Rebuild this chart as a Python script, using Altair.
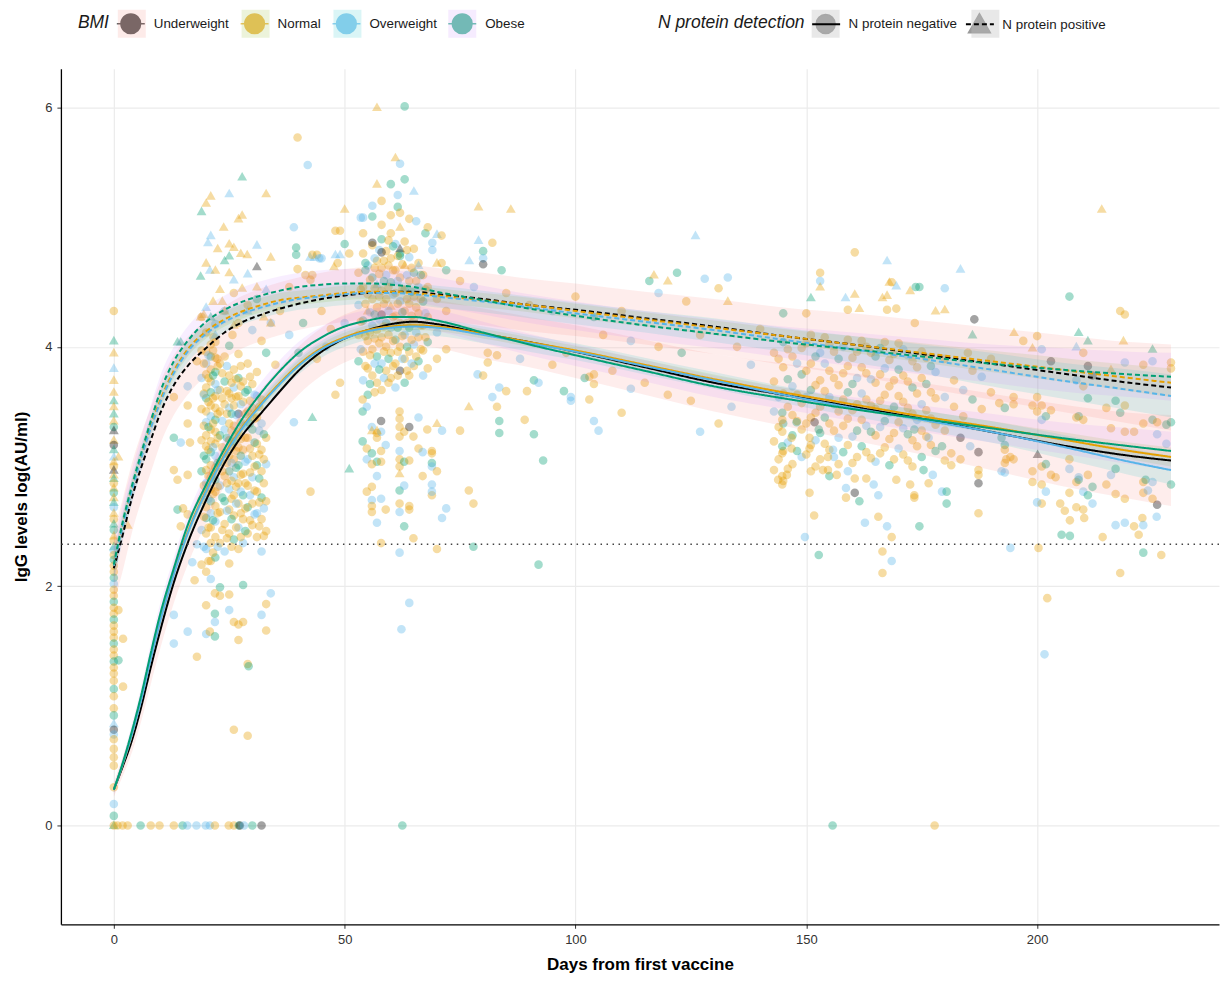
import altair as alt
import pandas as pd

BMI_LEVELS = ["Underweight", "Normal", "Overweight", "Obese"]
BMI_CODE = {"U": "Underweight", "N": "Normal", "O": "Overweight", "B": "Obese"}
N_LEVELS = ["N protein negative", "N protein positive"]
LINE_COLORS = ["#000000", "#E69F00", "#56B4E9", "#009E73"]
BAND_COLORS = ["#F8766D", "#7CAE00", "#00BFC4", "#C77CFF"]
DASHES = [[1, 0], [5, 3]]
THRESHOLD = [2.35]
X_TICKS = [0, 50, 100, 150, 200]
Y_TICKS = [0, 2, 4, 6]

# ---- observed points: (day, log IgG, BMI code, N positive flag) ----
pts_day0 = [
    (0,4.30,'N',0),(0,4.05,'B',1),(0,3.95,'N',1),(0,3.82,'O',1),(0,3.72,'N',1),(0,3.62,'N',1),(0,3.55,'B',1),
    (0,3.50,'N',1),(0,3.44,'B',1),(0,3.38,'N',1),(0,3.33,'B',0),(0,3.30,'U',1),(0,3.22,'N',1),(0,3.18,'U',0),
    (0,3.14,'B',1),(0,3.08,'O',1),(0,3.04,'N',1),(0,3.00,'N',0),(0,2.97,'U',1),(0,2.93,'N',1),(0,2.90,'B',1),
    (0,2.86,'N',0),(0,2.82,'N',1),(0,2.78,'B',0),(0,2.74,'N',1),(0,2.70,'B',1),(0,2.66,'O',0),(0,2.61,'N',1),
    (0,2.56,'N',0),(0,2.52,'B',1),(0,2.47,'B',0),(0,2.42,'N',1),(0,2.38,'N',0),(0,2.33,'B',1),(0,2.30,'O',0),
    (0,2.26,'N',0),(0,2.22,'B',0),(0,2.17,'N',0),(0,2.12,'N',0),(0,2.07,'B',0),(0,2.02,'O',0),(0,1.97,'N',0),
    (0,1.92,'N',0),(0,1.87,'B',0),(0,1.82,'N',0),(0,1.77,'N',0),(0,1.72,'B',0),(0,1.67,'N',0),(0,1.62,'N',0),
    (0,1.57,'N',0),(0,1.52,'B',0),(0,1.47,'N',0),(0,1.42,'N',0),(0,1.37,'B',0),(0,1.32,'N',0),(0,1.27,'N',0),
    (0,1.21,'N',0),(0,1.14,'B',0),(0,1.08,'N',0),(0,0.98,'N',0),(0,0.92,'B',0),(0,0.85,'O',1),(0,0.80,'U',0),
    (0,0.76,'O',0),(0,0.72,'N',0),(0,0.64,'N',0),(0,0.57,'N',0),(0,0.50,'N',0),(0,0.32,'N',0),(0,0.18,'O',0),
    (0,0.08,'B',0),(0,0.0,'B',1),(1,1.80,'N',0),(2,1.56,'N',0),(2,1.16,'N',0),(1,1.38,'B',0),(3,2.51,'N',1),
    (1,3.08,'N',1),
]
pts_zero = [
    (0,0,'N',0),(0.8,0,'N',0),(1.9,0,'N',0),(3,0,'N',0),(5.8,0,'B',0),(8,0,'N',0),(9.9,0,'N',0),(13,0,'N',0),
    (14.9,0,'B',0),(15.9,0,'O',0),(17.9,0,'O',0),(19.9,0,'O',0),(20.8,0,'O',0),(21.9,0,'N',0),(24.9,0,'N',0),
    (26,0,'N',0),(27.1,0,'B',0),(27.3,0,'U',0),(28.2,0,'O',0),(30,0,'B',0),(32,0,'U',0),(62.5,0,'B',0),
    (155.7,0,'B',0),(177.8,0,'N',0),
]
pts_c_core = [
    (19,2.18,'N',0),(19,2.47,'O',0),(19,2.72,'N',0),(19,2.96,'B',0),(19,3.22,'N',0),(19,3.48,'N',0),(19,3.74,'O',0),(19,3.97,'N',0),
    (20,2.12,'N',0),(20,2.31,'O',0),(20,2.44,'N',0),(20,2.57,'B',0),(20,2.66,'N',0),(20,2.78,'N',0),(20,2.86,'O',0),(20,2.97,'N',0),
    (20,3.06,'B',0),(20,3.17,'N',0),(20,3.26,'N',0),(20,3.37,'O',0),(20,3.46,'N',0),(20,3.57,'B',0),(20,3.66,'N',0),(20,3.77,'N',0),
    (20,3.86,'O',0),(20,3.96,'N',0),(20,4.12,'N',0),
    (21,2.06,'O',0),(21,2.21,'N',0),(21,2.36,'N',0),(21,2.49,'N',0),(21,2.61,'O',0),(21,2.71,'B',0),(21,2.81,'N',0),(21,2.91,'N',0),
    (21,3.01,'N',0),(21,3.12,'B',0),(21,3.21,'N',0),(21,3.31,'N',0),(21,3.42,'O',0),(21,3.51,'N',0),(21,3.62,'B',0),(21,3.71,'N',0),
    (21,3.81,'N',0),(21,3.92,'B',0),(21,4.02,'N',0),
    (22,2.24,'B',0),(22,2.41,'N',0),(22,2.54,'O',0),(22,2.67,'N',0),(22,2.79,'N',0),(22,2.89,'B',0),(22,2.99,'N',0),(22,3.09,'O',0),
    (22,3.19,'N',0),(22,3.29,'N',0),(22,3.39,'B',0),(22,3.49,'N',0),(22,3.59,'N',0),(22,3.69,'O',0),(22,3.79,'B',0),(22,3.91,'N',0),
    (22,4.04,'N',0),(22,4.19,'O',0),
    (23,2.36,'N',0),(23,2.62,'N',0),(23,2.84,'O',0),(23,3.04,'N',0),(23,3.26,'B',0),(23,3.46,'N',0),(23,3.64,'N',0),(23,3.86,'N',0),
    (24,2.29,'O',0),(24,2.52,'N',0),(24,2.71,'B',0),(24,2.92,'N',0),(24,3.11,'N',0),(24,3.31,'O',0),(24,3.52,'N',0),(24,3.71,'B',0),
    (24,3.92,'N',0),
    (25,2.19,'N',0),(25,2.44,'N',0),(25,2.64,'N',0),(25,2.81,'O',0),(25,2.96,'B',0),(25,3.09,'N',0),(25,3.22,'N',0),(25,3.36,'N',0),
    (25,3.49,'O',0),(25,3.61,'N',0),(25,3.76,'N',0),(25,4.01,'B',0),
    (26,2.39,'B',0),(26,2.59,'N',0),(26,2.76,'N',0),(26,2.91,'O',0),(26,3.06,'N',0),(26,3.21,'B',0),(26,3.34,'N',0),(26,3.51,'N',0),
    (26,3.66,'O',0),(26,3.81,'N',0),
    (27,2.31,'N',0),(27,2.49,'O',0),(27,2.69,'N',0),(27,2.86,'N',0),(27,3.01,'B',0),(27,3.16,'N',0),(27,3.29,'N',0),(27,3.44,'U',0),
    (27,3.59,'N',0),(27,3.74,'B',0),(27,3.94,'N',0),
    (28,2.36,'O',0),(28,2.56,'N',0),(28,2.76,'B',0),(28,2.94,'N',0),(28,3.14,'N',0),(28,3.34,'O',0),(28,3.54,'N',0),(28,3.71,'N',0),
    (29,2.44,'N',0),(29,2.66,'B',0),(29,2.84,'N',0),(29,3.06,'O',0),(29,3.24,'N',0),(29,3.46,'N',0),(29,3.64,'B',0),(29,3.86,'N',0),
    (30,2.51,'N',0),(30,2.69,'N',0),(30,2.91,'O',0),(30,3.09,'N',0),(30,3.31,'B',0),(30,3.49,'N',0),(30,3.69,'N',0),
    (31,2.41,'N',0),(31,2.61,'O',0),(31,2.79,'N',0),(31,3.01,'B',0),(31,3.19,'N',0),(31,3.41,'N',0),(31,3.59,'O',0),(31,3.79,'N',0),
    (32,2.29,'O',0),(32,2.56,'N',0),(32,2.74,'B',0),(32,2.96,'N',0),(32,3.14,'N',0),(32,3.36,'O',0),(32,3.56,'N',0),
    (33,2.46,'N',0),(33,2.71,'N',0),(33,3.02,'O',0),(33,3.24,'N',0),
]
pts_c_extra = [
    (19.5,2.33,'O',0),(19.5,2.58,'N',0),(19.5,2.84,'N',0),(19.5,3.09,'B',0),(19.5,3.34,'N',0),(19.5,3.61,'N',0),(19.5,3.86,'N',0),
    (20.5,2.21,'N',0),(20.5,2.49,'N',0),(20.5,2.73,'O',0),(20.5,2.92,'N',0),(20.5,3.14,'N',0),(20.5,3.33,'B',0),(20.5,3.54,'N',0),
    (20.5,3.74,'N',0),(20.5,3.93,'O',0),(21.5,2.28,'N',0),(21.5,2.55,'B',0),(21.5,2.77,'N',0),(21.5,2.95,'N',0),(21.5,3.16,'O',0),
    (21.5,3.36,'N',0),(21.5,3.57,'N',0),(21.5,3.76,'B',0),(21.5,3.97,'N',0),(22.5,2.33,'O',0),(22.5,2.61,'N',0),(22.5,2.83,'N',0),
    (22.5,3.03,'B',0),(22.5,3.24,'N',0),(22.5,3.44,'N',0),(22.5,3.64,'O',0),(22.5,3.84,'N',0),(23.5,2.47,'N',0),(23.5,2.74,'B',0),
    (23.5,2.96,'N',0),(23.5,3.16,'N',0),(23.5,3.38,'O',0),(23.5,3.57,'N',0),(23.5,3.78,'N',0),(24.5,2.40,'N',0),(24.5,2.63,'O',0),
    (24.5,2.86,'N',0),(24.5,3.03,'N',0),(24.5,3.24,'B',0),(24.5,3.44,'N',0),(24.5,3.63,'N',0),(24.5,3.84,'O',0),(25.5,2.33,'N',0),
    (25.5,2.56,'B',0),(25.5,2.73,'N',0),(25.5,2.88,'N',0),(25.5,3.03,'O',0),(25.5,3.16,'N',0),(25.5,3.30,'N',0),(25.5,3.44,'B',0),
    (25.5,3.57,'N',0),(25.5,3.70,'N',0),(26.5,2.49,'N',0),(26.5,2.69,'O',0),(26.5,2.83,'N',0),(26.5,2.99,'B',0),(26.5,3.13,'N',0),
    (26.5,3.27,'N',0),(26.5,3.43,'O',0),(26.5,3.58,'N',0),(26.5,3.73,'N',0),(27.5,2.41,'N',0),(27.5,2.61,'N',0),(27.5,2.79,'O',0),
    (27.5,2.93,'N',0),(27.5,3.09,'B',0),(27.5,3.23,'N',0),(27.5,3.37,'N',0),(27.5,3.52,'O',0),(27.5,3.67,'N',0),(27.5,3.84,'N',0),
    (28.5,2.46,'B',0),(28.5,2.65,'N',0),(28.5,2.86,'N',0),(28.5,3.04,'O',0),(28.5,3.24,'N',0),(28.5,3.44,'N',0),(28.5,3.62,'B',0),
    (29.5,2.55,'N',0),(29.5,2.76,'O',0),(29.5,2.95,'N',0),(29.5,3.15,'N',0),(29.5,3.36,'B',0),(29.5,3.55,'N',0),(29.5,3.75,'N',0),
    (30.5,2.60,'O',0),(30.5,2.80,'N',0),(30.5,3.00,'N',0),(30.5,3.20,'B',0),(30.5,3.40,'N',0),(30.5,3.60,'O',0),(31.5,2.50,'N',0),
    (31.5,2.70,'N',0),(31.5,2.90,'B',0),(31.5,3.10,'N',0),(31.5,3.30,'O',0),(31.5,3.50,'N',0),(32.5,2.42,'N',0),(32.5,2.65,'O',0),
    (32.5,2.86,'N',0),(32.5,3.06,'N',0),(32.5,3.27,'B',0),
]
pts_c_low = [
    (13,1.76,'O',0),(16,1.62,'O',0),(13,1.52,'O',0),(18,1.41,'N',0),(20,1.84,'N',0),(20,1.60,'O',0),(20.8,1.62,'N',0),
    (21.9,1.77,'B',0),(21.9,1.70,'O',0),(21.9,1.58,'B',0),(21.9,1.94,'N',0),(23,1.99,'B',0),(23,1.92,'N',0),(25,1.93,'N',0),
    (25,1.80,'O',0),(26,1.70,'N',0),(27,1.68,'N',0),(28,1.70,'N',0),(27,1.55,'N',0),(28,2.01,'B',0),(29,1.35,'N',0),
    (29.2,1.33,'B',0),(32,1.76,'O',0),(33,1.85,'N',0),(33,1.63,'N',0),(34,1.94,'O',0),(26,0.80,'N',0),(29,0.75,'N',0),
    (13,3.24,'B',0),(13,2.97,'N',0),(13.8,2.89,'N',0),(16,2.93,'N',0),(16,3.36,'N',0),(13,3.58,'N',0),(16,3.51,'N',0),
    (14.5,3.20,'O',0),(13.8,2.64,'B',0),(15,2.65,'N',0),(16,2.60,'N',0),(14.5,2.50,'N',0),(16.5,3.20,'N',0),(16,3.67,'O',0),
    (17,2.2,'O',0),(18,2.35,'O',0),(17.5,2.05,'N',0),
]
pts_c_up = [
    (30,4.14,'O',0),(25.7,4.10,'N',0),(21.6,4.08,'N',0),(22.4,3.90,'N',0),(19,4.25,'N',0),(24,4.30,'O',0),(27,4.20,'N',0),
    (29,4.35,'N',0),(32,4.05,'N',0),(34,4.20,'O',0),(33,3.95,'B',0),(18,3.88,'N',0),(19.5,3.60,'O',0),(35,3.85,'N',0),
    (36,4.30,'N',0),(38,4.10,'O',0),(31,4.40,'B',0),(26,4.45,'N',0),
    (39,3.37,'O',0),(42.6,2.79,'N',0),(43,3.41,'B',1),(51,2.98,'B',1),(44,3.90,'N',0),(46,4.00,'O',0),(47,4.15,'N',0),
    (49,3.70,'N',0),(48,3.60,'N',0),(45,4.30,'N',0),(41,4.20,'B',0),(50,4.20,'O',0),(38,4.50,'N',0),(43,4.60,'N',0),
    (40,3.95,'B',0),
    (39.8,5.75,'N',0),(42,5.52,'O',0),(39,5.00,'O',0),(39.5,4.83,'B',0),(39.5,4.77,'B',0),(44,4.77,'N',0),(48,4.97,'N',0),
    (50,4.86,'B',0),(45,4.74,'O',0),(48.5,4.70,'N',0),(39.8,4.65,'N',0),(42.6,4.56,'N',0),(41.5,4.60,'N',0),(50,5.15,'N',1),
    (48,4.77,'O',1),(49,4.77,'O',1),(42.5,4.75,'O',1),(43.5,4.75,'O',1),(47.7,4.67,'N',1),
]
pts_c_tri = [
    (27.8,5.42,'B',1),(25,5.28,'O',1),(33,5.28,'N',1),(21,5.26,'N',1),(20,5.20,'N',1),(19,5.13,'B',1),(27.8,5.10,'N',1),
    (27,5.07,'N',1),(23.8,5.00,'N',1),(21,4.93,'O',1),(20.4,4.87,'O',1),(25,4.86,'N',1),(22.5,4.82,'N',1),(31,4.85,'O',1),
    (26,4.83,'N',1),(27.5,4.78,'N',1),(28.9,4.77,'N',1),(34,4.75,'N',1),(25,4.76,'B',1),(24,4.72,'B',1),(31,4.67,'U',1),
    (18.8,4.59,'B',1),(20,4.70,'N',1),(20.8,4.64,'O',1),(22,4.64,'N',1),(25,4.62,'N',1),(26,4.56,'O',1),(29,4.61,'O',1),
    (27.8,4.49,'N',1),(31,4.50,'N',1),(33,4.48,'O',1),(23,4.48,'N',1),(21.5,4.38,'N',1),(23.5,4.38,'N',1),(20,4.33,'O',1),
    (21,4.25,'B',1),(24,4.30,'N',1),(19.5,4.27,'N',1),(32.5,4.25,'N',1),(34,4.20,'N',1),(18.8,4.25,'N',1),(14.5,4.04,'B',1),
    (13.8,4.04,'B',1),(22,4.10,'O',1),(26,4.18,'N',1),(29,4.30,'O',1),
]
pts_d_core = [
    (53,4.62,'N',0),(53,4.35,'O',0),(53,4.10,'N',0),(53,3.88,'B',0),(54,4.78,'N',0),(54,4.50,'N',0),(54,4.22,'B',0),
    (54,3.96,'N',0),(54,3.72,'O',0),(55,4.68,'O',0),(55,4.44,'N',0),(55,4.30,'N',1),(55,4.05,'N',0),(55,3.82,'N',0),
    (55,3.60,'B',0),(56,4.85,'N',0),(56,4.58,'B',0),(56,4.40,'N',0),(56,4.18,'O',0),(56,3.98,'N',0),(56,3.76,'N',0),
    (57,4.72,'N',0),(57,4.52,'O',1),(57,4.33,'N',0),(57,4.14,'N',0),(57,3.92,'B',0),(57,3.70,'N',0),(58,4.90,'B',0),
    (58,4.66,'N',0),(58,4.47,'N',0),(58,4.27,'U',0),(58,4.08,'N',0),(58,3.86,'O',0),(58,3.64,'N',0),(59,4.80,'N',0),
    (59,4.60,'O',0),(59,4.40,'N',0),(59,4.20,'B',0),(59,4.00,'N',0),(59,3.80,'N',0),(60,4.95,'N',0),(60,4.74,'N',0),
    (60,4.54,'B',0),(60,4.34,'N',1),(60,4.16,'O',0),(60,3.95,'N',0),(60,3.74,'N',0),(61,4.86,'O',0),(61,4.64,'N',0),
    (61,4.45,'N',0),(61,4.26,'N',0),(61,4.06,'B',0),(61,3.86,'N',0),(61,3.66,'O',0),(62,5.00,'N',1),(62,4.78,'B',0),
    (62,4.58,'N',0),(62,4.38,'O',0),(62,4.20,'N',0),(62,4.00,'N',0),(62,3.80,'U',0),(63,4.88,'N',0),(63,4.68,'N',1),
    (63,4.48,'B',0),(63,4.30,'N',0),(63,4.10,'O',0),(63,3.90,'N',0),(63,3.70,'B',0),(64,4.75,'O',0),(64,4.55,'N',0),
    (64,4.36,'N',0),(64,4.16,'B',0),(64,3.96,'N',0),(64,3.76,'N',0),(65,4.82,'N',0),(65,4.62,'B',0),(65,4.42,'N',0),
    (65,4.22,'N',0),(65,4.02,'O',0),(65,3.84,'N',0),(66,4.70,'N',0),(66,4.50,'O',0),(66,4.28,'N',0),(66,4.08,'N',0),
    (66,3.88,'B',0),(67,4.60,'N',0),(67,4.38,'B',0),(67,4.18,'N',0),(67,3.97,'N',0),(67,3.76,'O',0),(68,4.50,'N',0),
    (68,4.25,'N',0),(68,4.04,'B',0),(68,3.82,'N',0),(70,4.40,'N',0),(70,4.12,'O',0),(70,3.90,'N',0),(72,4.30,'N',0),
    (72,3.98,'N',0),(62,4.82,'U',1),
]
pts_d_extra = [
    (53.5,4.48,'N',0),(53.5,4.21,'N',0),(53.5,3.98,'O',0),(54.5,4.64,'B',0),(54.5,4.36,'N',0),(54.5,4.09,'N',0),(54.5,3.84,'N',0),
    (55.5,4.56,'N',0),(55.5,4.29,'O',0),(55.5,4.12,'N',0),(55.5,3.93,'N',0),(55.5,3.69,'B',0),(56.5,4.66,'N',0),(56.5,4.49,'N',0),
    (56.5,4.27,'B',0),(56.5,4.07,'N',0),(56.5,3.86,'O',0),(56.5,3.62,'N',0),(57.5,4.81,'O',0),(57.5,4.61,'N',0),(57.5,4.42,'N',0),
    (57.5,4.23,'O',0),(57.5,4.03,'N',0),(57.5,3.81,'B',0),(58.5,4.72,'N',0),(58.5,4.55,'B',0),(58.5,4.36,'N',0),(58.5,4.17,'N',0),
    (58.5,3.96,'N',0),(58.5,3.74,'O',0),(59.5,4.89,'N',0),(59.5,4.50,'N',0),(59.5,4.30,'O',0),(59.5,4.10,'N',0),(59.5,3.90,'B',0),
    (59.5,3.70,'N',0),(60.5,4.84,'B',0),(60.5,4.64,'N',0),(60.5,4.44,'O',0),(60.5,4.25,'N',0),(60.5,4.05,'N',0),(60.5,3.84,'N',0),
    (61.5,4.76,'N',0),(61.5,4.55,'O',0),(61.5,4.36,'N',0),(61.5,4.16,'B',0),(61.5,3.96,'N',0),(61.5,3.76,'N',0),(62.5,4.69,'N',0),
    (62.5,4.48,'N',0),(62.5,4.29,'B',0),(62.5,4.09,'N',0),(62.5,3.90,'O',0),(63.5,4.60,'O',0),(63.5,4.40,'N',0),(63.5,4.20,'N',0),
    (63.5,4.00,'B',0),(63.5,3.80,'N',0),(64.5,4.66,'N',0),(64.5,4.46,'B',0),(64.5,4.26,'N',0),(64.5,4.06,'N',0),(64.5,3.86,'O',0),
    (65.5,4.55,'N',0),(65.5,4.33,'N',0),(65.5,4.12,'O',0),(65.5,3.92,'N',0),(66.5,4.60,'B',0),(66.5,4.40,'N',0),(66.5,4.18,'N',0),
    (66.5,3.98,'N',0),(67.5,4.48,'N',0),(67.5,4.28,'O',0),(67.5,4.08,'N',0),
]
pts_d_up = [
    (57,6.00,'N',1),(61,5.58,'N',1),(57,5.36,'N',1),(65,5.30,'O',1),(63,6.01,'B',0),(62,5.53,'O',0),(63,5.40,'B',0),
    (60,5.36,'B',0),(61.5,5.27,'O',0),(61.5,5.17,'B',0),(56,5.18,'O',0),(53.5,5.08,'O',0),(54,5.08,'O',0),(56,5.09,'B',0),
    (58,5.22,'N',0),(60,5.10,'N',0),(62,5.12,'N',0),(64,5.07,'N',0),(65.5,5.05,'O',0),(49,4.97,'N',0),(54,4.95,'N',0),
    (58,5.02,'N',0),(56,4.87,'U',0),(58,4.79,'U',0),(43,4.77,'N',0),(44.5,4.74,'O',0),(51,4.78,'N',0),(54.5,4.70,'B',0),
    (56.5,4.74,'O',0),(59.5,4.68,'N',0),(62,4.76,'B',0),(63.5,4.81,'N',0),(67.5,4.95,'B',0),
]
pts_d_low = [
    (53.9,3.46,'B',0),(53.9,3.56,'N',0),(54.8,3.50,'O',0),(55.9,3.33,'O',0),(57.9,3.38,'U',0),(57,3.28,'N',0),(57,3.24,'N',0),
    (53.9,3.21,'B',0),(54.8,3.15,'N',0),(55.9,3.11,'B',0),(57,3.04,'B',0),(54.8,3.06,'O',0),(55.9,3.02,'N',0),(57,2.92,'O',0),
    (54.8,2.79,'N',0),(55.9,2.83,'N',0),(55.9,2.72,'O',0),(55.9,2.67,'N',0),(55.9,2.62,'N',0),(57.9,2.73,'O',0),(57,2.53,'O',0),
    (58.9,2.64,'N',0),(57.9,2.36,'N',0),(57.9,3.29,'O',0),(58.9,3.18,'O',0),(57.9,3.13,'N',0),(57.9,3.04,'N',0),
    (61.9,3.46,'N',0),(61.9,3.40,'N',0),(61.9,3.33,'N',0),(61.9,3.25,'N',0),(61.9,3.13,'O',0),(61.9,3.06,'N',0),(61.9,3.00,'N',0),
    (61.9,2.94,'N',1),(61.9,2.80,'B',0),(61.9,2.69,'N',0),(61.9,2.62,'O',0),(62.9,3.29,'N',0),(62.9,3.04,'B',0),(62.9,2.84,'O',0),
    (62.9,2.50,'B',0),(61.9,2.28,'O',0),(64,3.33,'U',0),(64.9,3.25,'N',0),(64,3.05,'N',0),(64,2.67,'N',0),(64,2.64,'N',0),
    (64.9,2.40,'N',0),(66,3.41,'O',0),(66,3.15,'N',0),(66.9,2.92,'N',0),(66.9,3.12,'O',0),(67.9,3.31,'N',0),(68.9,3.13,'N',0),
    (68.9,3.11,'N',0),(68.9,3.03,'B',0),(68.9,3.00,'O',0),(68.9,2.85,'O',0),(68.9,2.76,'N',0),(68.9,2.79,'O',0),(70,2.96,'N',0),
    (70,2.31,'N',0),(70,3.36,'N',1),(71.1,3.30,'O',0),(72,2.65,'O',0),(71.1,2.57,'O',0),(75,3.30,'N',0),(76.9,3.50,'N',1),
    (76.9,2.80,'N',0),(77.9,2.69,'N',0),(77.9,2.33,'B',0),(62.3,1.64,'O',0),(64,1.86,'O',0),(55.9,3.30,'N',1),(57,3.30,'N',1),
]
pts_mid = [
    (79,5.17,'N',1),(86,5.15,'N',1),(79,4.89,'O',1),(77,4.72,'O',1),(70,4.94,'O',1),(70,4.70,'N',1),(66,4.68,'O',1),
    (80,4.80,'B',0),(80,4.74,'O',0),(80,4.69,'U',0),(84,4.64,'B',0),(82,4.87,'N',0),(71,4.93,'N',0),(68,5.00,'N',0),
    (69,4.87,'O',0),(69,4.81,'O',0),(71,4.70,'N',0),(72,4.64,'B',0),(75,4.55,'N',0),(78,4.50,'O',0),(85,4.45,'N',0),
    (90,4.35,'N',0),(95,4.30,'O',0),(100,4.42,'N',0),(104,4.25,'B',0),(110,4.30,'N',0),(116,4.55,'B',0),(117,4.60,'N',1),
    (120,4.55,'N',1),(118,4.45,'O',0),(124,4.38,'N',0),(126,4.93,'O',1),(128,4.57,'O',0),(122,4.62,'B',0),
    (78.8,3.77,'O',0),(80,3.76,'N',0),(81,3.87,'N',0),(81,3.95,'N',0),(83,3.93,'N',0),(83.5,3.66,'O',0),(82,3.58,'O',0),
    (83,3.50,'N',0),(85,3.63,'N',0),(89.5,3.63,'N',0),(91,3.72,'B',0),(92,3.70,'O',0),(97.5,3.63,'B',0),(99,3.58,'O',0),
    (99,3.55,'O',0),(103,3.56,'N',0),(104,3.69,'N',0),(104,3.77,'N',0),(103,3.75,'N',0),(102,3.74,'B',0),(88,3.90,'O',0),
    (95,3.85,'N',0),(98,3.95,'N',0),(108,3.80,'N',0),(112,3.65,'O',0),(115,3.70,'N',0),(120,3.60,'N',0),(125,3.55,'N',0),
    (110,3.45,'N',0),(105,3.30,'O',0),(83.5,3.38,'B',0),(83.5,3.28,'B',0),(91,3.27,'B',0),(93,3.05,'B',0),(92,2.18,'B',0),
    (89,3.39,'N',0),(104,3.38,'O',0),(106,4.10,'N',0),(112,4.05,'O',0),(118,4.00,'N',0),(123,3.95,'B',0),(127,4.10,'N',0),
    (135,4.00,'N',0),(138,3.85,'O',0),(140,4.15,'N',0),(131,3.36,'N',0),(133.8,3.50,'O',0),(127,3.29,'O',0),
]
pts_late_core = [
    (143,3.95,'N',0),(143,3.71,'N',0),(143,3.46,'O',0),(143,3.21,'N',0),(143,2.97,'N',0),(145,4.04,'B',0),(145,3.83,'N',0),
    (145,3.61,'N',0),(145,3.36,'B',0),(145,3.13,'N',0),(145,2.88,'N',0),(147,3.92,'N',0),(147,3.67,'O',0),(147,3.43,'N',0),
    (147,3.26,'B',0),(147,3.02,'N',0),(149,3.99,'N',0),(149,3.77,'B',0),(149,3.53,'N',0),(149,3.31,'N',0),(149,3.08,'O',0),
    (151,4.10,'N',0),(151,3.86,'N',0),(151,3.64,'B',0),(151,3.41,'N',0),(151,3.18,'N',0),(151,2.96,'N',0),(153,3.95,'O',0),
    (153,3.72,'N',0),(153,3.50,'N',0),(153,3.28,'B',0),(153,3.06,'N',0),(155,4.02,'N',0),(155,3.80,'N',0),(155,3.58,'O',0),
    (155,3.36,'N',0),(155,3.14,'N',0),(155,2.92,'B',0),(157,3.90,'B',0),(157,3.68,'N',0),(157,3.46,'N',0),(157,3.24,'O',0),
    (157,3.02,'N',0),(159,4.06,'N',0),(159,3.84,'N',0),(159,3.62,'B',0),(159,3.40,'N',0),(159,3.18,'N',0),(159,2.96,'O',0),
    (161,3.96,'N',0),(161,3.74,'O',0),(161,3.52,'N',0),(161,3.30,'B',0),(161,3.08,'N',0),(163,4.00,'N',0),(163,3.78,'N',0),
    (163,3.56,'N',0),(163,3.34,'O',0),(163,3.12,'N',0),(163,2.90,'N',0),(165,3.92,'B',0),(165,3.70,'N',0),(165,3.48,'N',0),
    (165,3.26,'N',0),(165,3.04,'O',0),(167,4.04,'N',0),(167,3.82,'O',0),(167,3.60,'N',0),(167,3.38,'B',0),(167,3.16,'N',0),
    (169,3.94,'N',0),(169,3.72,'N',0),(169,3.50,'B',0),(169,3.28,'N',0),(169,3.06,'N',0),(171,3.98,'O',0),(171,3.76,'N',0),
    (171,3.54,'N',0),(171,3.32,'O',0),(171,3.10,'N',0),(173,3.88,'N',0),(173,3.66,'B',0),(173,3.44,'N',0),(173,3.22,'N',0),
    (173,3.00,'N',0),(175,3.96,'N',0),(175,3.74,'N',0),(175,3.52,'O',0),(175,3.30,'N',0),(175,3.08,'B',0),(177,3.84,'B',0),
    (177,3.62,'N',0),(177,3.40,'N',0),(177,3.18,'N',0),(180,3.90,'N',0),(180,3.58,'O',0),(180,3.30,'N',0),(180,3.05,'N',0),
]
pts_late_extra = [
    (144,3.90,'N',0),(144,3.58,'O',0),(144,3.33,'N',0),(144,3.06,'N',0),(146,3.98,'N',0),(146,3.73,'B',0),(146,3.50,'N',0),
    (146,3.20,'O',0),(146,2.98,'N',0),(148,3.86,'O',0),(148,3.60,'N',0),(148,3.38,'N',0),(148,3.13,'B',0),(150,4.03,'N',0),
    (150,3.80,'N',0),(150,3.58,'O',0),(150,3.36,'N',0),(150,3.10,'N',0),(152,3.92,'B',0),(152,3.68,'N',0),(152,3.45,'N',0),
    (152,3.22,'O',0),(152,3.00,'N',0),(154,4.08,'N',0),(154,3.86,'O',0),(154,3.63,'N',0),(154,3.41,'B',0),(154,3.19,'N',0),
    (156,3.96,'N',0),(156,3.74,'N',0),(156,3.52,'B',0),(156,3.30,'N',0),(156,3.08,'O',0),(158,4.00,'O',0),(158,3.78,'N',0),
    (158,3.56,'N',0),(158,3.34,'N',0),(158,3.12,'B',0),(160,3.91,'N',0),(160,3.69,'B',0),(160,3.47,'N',0),(160,3.25,'O',0),
    (160,3.03,'N',0),(162,4.05,'N',0),(162,3.83,'N',0),(162,3.61,'O',0),(162,3.39,'N',0),(162,3.17,'B',0),(164,3.95,'N',0),
    (164,3.73,'O',0),(164,3.51,'N',0),(164,3.29,'B',0),(164,3.07,'N',0),(166,3.99,'B',0),(166,3.77,'N',0),(166,3.55,'N',0),
    (166,3.33,'O',0),(166,3.11,'N',0),(168,3.89,'N',0),(168,3.67,'N',0),(168,3.45,'O',0),(168,3.23,'N',0),(168,3.01,'B',0),
    (170,4.03,'N',0),(170,3.81,'B',0),(170,3.59,'N',0),(170,3.37,'N',0),(170,3.15,'O',0),(172,3.93,'O',0),(172,3.71,'N',0),
    (172,3.49,'N',0),(172,3.27,'B',0),(172,3.05,'N',0),(174,3.83,'N',0),(174,3.61,'N',0),(174,3.39,'O',0),(174,3.17,'N',0),
    (176,3.91,'N',0),(176,3.69,'B',0),(176,3.47,'N',0),(176,3.25,'N',0),(178,3.79,'O',0),(178,3.57,'N',0),(178,3.35,'N',0),
    (178,3.13,'B',0),(182,3.72,'N',0),(182,3.50,'N',0),(184,3.64,'O',0),(184,3.42,'N',0),(186,3.80,'N',0),(186,3.56,'B',0),
    (188,3.48,'N',0),(190,3.62,'N',0),
]
pts_late_up = [
    (133,4.58,'O',0),(131,4.49,'N',0),(133,4.38,'N',1),(145,4.28,'B',0),(150,4.28,'N',0),(151,4.41,'B',1),(153,4.55,'O',0),
    (153,4.50,'N',1),(153,4.62,'N',0),(158.5,4.41,'O',1),(160.5,4.79,'N',0),(160.5,4.44,'N',1),(161.5,4.32,'N',1),
    (159,4.31,'N',0),(167.5,4.72,'O',1),(168,4.54,'N',1),(168.5,4.54,'N',0),(166.5,4.41,'N',1),(167.5,4.43,'N',1),
    (167.5,4.31,'N',0),(169.5,4.32,'N',0),(169.5,4.51,'O',1),(172.5,4.47,'N',1),(173.7,4.50,'B',0),(174.5,4.50,'B',0),
    (173.5,4.20,'N',0),(180,4.49,'O',0),(183.4,4.65,'O',1),(178,4.30,'N',1),(180,4.31,'N',1),(186.4,4.23,'U',0),
    (186,4.10,'B',1),(195,4.12,'N',1),(197,4.05,'N',0),(214,5.15,'N',1),(218,4.30,'N',0),(207,4.42,'B',0),(203,3.88,'U',0),
    (211,3.84,'U',0),(229,3.87,'N',0),(200,4.09,'N',0),(199,3.99,'N',1),(201,3.98,'O',0),(209,4.12,'B',1),(211,4.05,'B',1),
    (210,3.95,'N',0),(208.5,4.00,'O',1),(212,3.76,'U',0),(216,3.81,'N',1),(218.7,4.05,'N',1),(219,4.27,'N',0),(225,3.98,'B',1),
    (225,3.88,'O',0),(223,3.85,'N',0),(229,3.82,'N',0),(219,3.87,'O',0),(185,3.95,'N',0),(188,3.75,'O',0),(190,3.90,'N',0),
]
pts_late_low = [
    (144.8,3.45,'B',0),(144.8,3.39,'N',0),(144.8,3.29,'N',0),(144.8,3.17,'B',0),(144.8,3.11,'N',0),(143.9,2.89,'N',0),
    (144.8,2.92,'N',0),(144.8,2.85,'N',0),(145.8,2.93,'N',0),(146.8,3.24,'N',0),(146.8,3.15,'N',0),(147.9,3.37,'B',0),
    (149.7,2.41,'O',0),(150.7,2.78,'N',0),(151.7,2.59,'N',0),(152.7,2.26,'B',0),(150.7,3.24,'N',0),(150.7,3.15,'N',0),
    (151.8,3.37,'U',0),(152.7,3.31,'B',0),(153.6,2.97,'N',0),(154.7,2.97,'N',0),(154.7,3.08,'N',0),(155.8,3.14,'O',0),
    (156.6,2.93,'N',0),(158.6,2.74,'N',0),(158.6,2.82,'O',0),(160.5,2.90,'N',0),(160.5,2.78,'U',0),(161.5,2.71,'B',0),
    (162.7,2.53,'O',0),(164.6,2.85,'O',0),(165.6,2.76,'O',0),(165.6,2.58,'N',0),(166.5,2.29,'N',0),(166.5,2.11,'N',0),
    (167.5,2.50,'O',0),(168.5,2.21,'O',0),(168.5,2.41,'N',0),(169.5,2.89,'N',0),(172.5,2.85,'N',0),(173.4,3.31,'B',0),
    (173.4,2.76,'N',0),(173.4,2.74,'N',0),(174.5,2.50,'B',0),(175.4,2.97,'B',0),(176.5,3.24,'O',0),(176.5,2.86,'N',0),
    (177.4,2.93,'O',0),(179.4,3.17,'B',0),(179.4,2.79,'O',0),(180.4,2.79,'B',0),(180.4,2.69,'B',0),(181.4,3.11,'N',0),
    (181.4,3.01,'N',0),(183.4,3.06,'N',0),(183.4,3.24,'U',0),(185.5,3.17,'O',0),(187.3,3.12,'U',0),(187.3,2.86,'U',0),
    (187.3,2.97,'N',0),(187.3,2.93,'N',0),(187.3,2.61,'N',0),(192.3,2.96,'O',0),(193.3,3.06,'N',0),(194.2,3.08,'N',0),
    (192.3,3.24,'B',0),(194.2,2.32,'O',0),(200.1,3.10,'U',1),(200.3,2.32,'N',0),(202.2,1.90,'N',0),(201.6,1.43,'O',0),
    (205.3,2.43,'B',0),(207.1,2.55,'N',0),(207.1,2.42,'B',0),(210.2,2.57,'N',0),(214.2,2.41,'N',0),(217,2.51,'O',0),
    (218,2.11,'N',0),(219,2.53,'O',0),(221,2.50,'N',0),(222,2.43,'N',0),(222.8,2.57,'N',0),(223,2.51,'O',0),(223,2.28,'B',0),
    (225.9,2.58,'O',0),(226.9,2.26,'N',0),(229,3.37,'B',0),
    (200,3.58,'N',0),(199,3.51,'N',0),(200,3.46,'N',0),(201,3.51,'N',0),(201.9,3.42,'B',0),(201,3.39,'O',0),(203,3.47,'N',0),
    (194.9,3.58,'N',0),(194.9,3.52,'N',0),(193,3.49,'B',0),(191.8,3.53,'N',0),(209,3.42,'B',0),(208.5,3.41,'N',0),
    (210,3.39,'N',0),(211,3.57,'B',0),(210,3.67,'N',0),(208.5,3.72,'O',0),(215,3.49,'N',0),(216,3.32,'N',0),(217,3.55,'B',0),
    (218,3.45,'B',0),(219,3.51,'N',0),(219,3.29,'N',0),(221,3.29,'N',0),(223,3.36,'N',0),(225,3.39,'B',0),(226,3.37,'N',0),
    (226,3.27,'O',0),(228,3.35,'B',0),(193,3.18,'B',0),(193,3.14,'N',0),(193,3.03,'N',0),(194.9,3.06,'N',0),(193,2.95,'O',0),
    (199,2.96,'N',0),(199,2.87,'N',0),(201,3.00,'N',0),(201,2.85,'N',0),(201.9,2.79,'O',0),(201.9,3.02,'B',0),(203,2.93,'N',0),
    (204,2.91,'N',0),(207,2.98,'O',0),(207,3.06,'N',0),(207,2.78,'N',0),(208.5,2.87,'N',0),(209,2.89,'B',0),(209,2.91,'O',0),
    (210,2.79,'O',0),(211,2.76,'B',0),(211,2.93,'N',0),(212,2.83,'B',0),(212,2.69,'O',0),(210,2.64,'N',0),(208.5,2.66,'N',0),
    (206,2.63,'N',0),(205,2.69,'N',0),(201,2.69,'N',0),(200,2.70,'O',0),(215,2.85,'N',0),(216,2.93,'O',0),(217,2.98,'B',0),
    (217,2.77,'N',0),(219,2.73,'N',0),(223,2.87,'N',0),(223.5,2.89,'B',0),(223,2.78,'N',0),(224,2.80,'O',0),(225,2.87,'O',0),
    (225,2.73,'N',0),(226,2.68,'U',0),(229,2.85,'B',0),(228,3.19,'O',0),
]

# ---- fitted curves ----
fit_days = [0,2,4,6,8,10,13,16,20,24,28,32,36,40,45,50,55,60,65,70,80,90,100,115,130,145,160,175,190,205,220,229]
fit_neg_U = [0.30,0.50,0.72,1.00,1.32,1.62,2.03,2.36,2.72,3.03,3.27,3.45,3.63,3.80,3.96,4.07,4.14,4.19,4.21,4.19,4.11,4.04,3.96,3.83,3.70,3.60,3.50,3.40,3.29,3.18,3.09,3.05]
fit_neg_N = [0.30,0.52,0.77,1.07,1.40,1.71,2.11,2.45,2.80,3.10,3.34,3.53,3.70,3.85,3.99,4.08,4.14,4.17,4.18,4.17,4.11,4.04,3.97,3.85,3.73,3.62,3.52,3.42,3.33,3.23,3.13,3.08]
fit_neg_O = [0.30,0.52,0.77,1.06,1.39,1.70,2.10,2.44,2.79,3.09,3.33,3.52,3.69,3.84,3.98,4.07,4.13,4.16,4.17,4.16,4.10,4.03,3.96,3.84,3.72,3.60,3.49,3.39,3.29,3.17,3.04,2.97]
fit_neg_B = [0.30,0.53,0.80,1.10,1.44,1.76,2.15,2.51,2.85,3.15,3.41,3.62,3.80,3.95,4.08,4.17,4.22,4.25,4.25,4.22,4.12,4.02,3.93,3.80,3.67,3.57,3.48,3.40,3.32,3.24,3.17,3.13]
fit_pos_U = [2.15,2.44,2.75,3.00,3.22,3.44,3.68,3.84,3.99,4.12,4.21,4.27,4.32,4.36,4.40,4.43,4.45,4.46,4.46,4.44,4.40,4.35,4.31,4.24,4.17,4.09,4.02,3.94,3.86,3.78,3.70,3.66]
fit_pos_N = [2.17,2.52,2.82,3.09,3.34,3.55,3.80,3.98,4.13,4.23,4.30,4.35,4.39,4.41,4.43,4.45,4.46,4.46,4.45,4.43,4.39,4.35,4.30,4.23,4.16,4.09,4.02,3.95,3.88,3.81,3.74,3.70]
fit_pos_O = [2.17,2.51,2.81,3.08,3.32,3.53,3.78,3.96,4.11,4.21,4.28,4.33,4.37,4.40,4.42,4.44,4.45,4.45,4.44,4.42,4.38,4.33,4.28,4.21,4.14,4.06,3.98,3.90,3.81,3.72,3.64,3.59]
fit_pos_B = [2.18,2.55,2.85,3.12,3.38,3.62,3.88,4.05,4.21,4.31,4.38,4.43,4.47,4.50,4.52,4.53,4.53,4.52,4.50,4.46,4.39,4.32,4.26,4.18,4.11,4.04,3.98,3.92,3.86,3.81,3.77,3.75]
# half-width of the confidence ribbons
hw_neg_U = [0.06,0.08,0.10,0.12,0.14,0.15,0.17,0.18,0.19,0.19,0.20,0.20,0.20,0.20,0.20,0.20,0.20,0.20,0.20,0.20,0.21,0.21,0.22,0.23,0.24,0.26,0.28,0.30,0.32,0.34,0.36,0.38]
hw_neg_N = [0.02,0.02,0.03,0.03,0.04,0.04,0.04,0.04,0.04,0.04,0.04,0.04,0.04,0.04,0.04,0.04,0.04,0.04,0.04,0.04,0.04,0.04,0.04,0.04,0.04,0.04,0.04,0.05,0.05,0.06,0.07,0.08]
hw_neg_O = [0.03,0.04,0.05,0.06,0.06,0.07,0.07,0.07,0.07,0.07,0.07,0.07,0.07,0.07,0.07,0.07,0.07,0.07,0.07,0.07,0.07,0.07,0.07,0.07,0.07,0.07,0.07,0.08,0.09,0.10,0.11,0.12]
hw_neg_B = [0.04,0.05,0.06,0.07,0.08,0.09,0.09,0.09,0.09,0.09,0.09,0.09,0.09,0.09,0.09,0.09,0.09,0.09,0.09,0.09,0.09,0.09,0.09,0.09,0.09,0.09,0.10,0.11,0.12,0.13,0.15,0.16]
hw_pos_U = [0.30,0.30,0.29,0.28,0.27,0.26,0.25,0.24,0.23,0.22,0.22,0.22,0.22,0.22,0.22,0.22,0.22,0.22,0.22,0.22,0.22,0.22,0.22,0.22,0.23,0.24,0.26,0.28,0.30,0.32,0.34,0.36]
hw_pos_N = [0.08,0.08,0.08,0.07,0.07,0.07,0.06,0.06,0.06,0.06,0.06,0.06,0.06,0.06,0.06,0.06,0.06,0.06,0.06,0.06,0.06,0.06,0.06,0.06,0.06,0.06,0.07,0.08,0.09,0.10,0.11,0.12]
hw_pos_O = [0.12,0.12,0.11,0.11,0.10,0.10,0.09,0.09,0.09,0.09,0.09,0.09,0.09,0.09,0.09,0.09,0.09,0.09,0.09,0.09,0.09,0.09,0.09,0.09,0.10,0.10,0.11,0.12,0.14,0.15,0.17,0.18]
hw_pos_B = [0.15,0.15,0.14,0.14,0.13,0.13,0.12,0.12,0.12,0.12,0.12,0.12,0.12,0.12,0.12,0.12,0.12,0.12,0.12,0.12,0.12,0.12,0.12,0.12,0.12,0.13,0.14,0.15,0.16,0.18,0.19,0.20]

# ---- build tables ----
rows = []
for lst in [pts_day0, pts_zero, pts_c_core, pts_c_extra, pts_c_low, pts_c_up, pts_c_tri, pts_d_core,
            pts_d_extra, pts_d_up, pts_d_low, pts_mid, pts_late_core, pts_late_extra, pts_late_up, pts_late_low]:
    for d, v, g, n in lst:
        rows.append({"day": d, "igg": v, "BMI": BMI_CODE[g], "N": N_LEVELS[n]})
points = pd.DataFrame(rows)

curves = {
    ("U", 0): (fit_neg_U, hw_neg_U), ("N", 0): (fit_neg_N, hw_neg_N),
    ("O", 0): (fit_neg_O, hw_neg_O), ("B", 0): (fit_neg_B, hw_neg_B),
    ("U", 1): (fit_pos_U, hw_pos_U), ("N", 1): (fit_pos_N, hw_pos_N),
    ("O", 1): (fit_pos_O, hw_pos_O), ("B", 1): (fit_pos_B, hw_pos_B),
}
frows = []
for (g, n), (fit, hw) in curves.items():
    for d, f, h in zip(fit_days, fit, hw):
        frows.append({"day": d, "igg": f, "lo": f - h, "hi": f + h, "BMI": BMI_CODE[g],
                      "N": N_LEVELS[n], "curve": g + str(n)})
fits = pd.DataFrame(frows)
thr_df = pd.DataFrame({"igg": THRESHOLD})

FONT = "Liberation Sans"
x_scale = alt.Scale(domain=[-11.46, 239.4], nice=False, zero=False)
y_scale = alt.Scale(domain=[-0.826, 6.325], nice=False, zero=False)
x_axis = alt.Axis(values=X_TICKS, title="Days from first vaccine", format="d")
y_axis = alt.Axis(values=Y_TICKS, title="IgG levels log(AU/ml)", format="d")

CIRCLE_LINE = "M-1,0L1,0M-0.7,0A0.7,0.7,0,1,1,0.7,0A0.7,0.7,0,1,1,-0.7,0Z"
CIRCLE = "M-0.68,0A0.68,0.68,0,1,1,0.68,0A0.68,0.68,0,1,1,-0.68,0Z"
TRIANGLE = "M0,-0.8L0.78,0.56L-0.78,0.56Z"

LEG_Y = -60
common_leg = dict(orient="none", direction="horizontal", titleOrient="left", symbolSize=784,
                  labelFontSize=13.4, labelFont=FONT, titleFont=FONT, titleFontSize=17.5,
                  titleFontStyle="italic", titleFontWeight="normal", labelOffset=8,
                  columnPadding=7, titlePadding=6, labelColor="#1a1a1a", titleColor="#1a1a1a")
# key positions (left edge of each key, relative to the plot) for the symbol-only legends
TILE_X = [56, 180, 272, 387]
DASH_X = [751, 905]

color_legend = alt.Legend(title="BMI", legendX=17, legendY=LEG_Y, symbolType=CIRCLE_LINE,
                          symbolStrokeWidth=1.6, symbolOpacity=0.6, **common_leg)
shape_legend = alt.Legend(title="N protein detection", legendX=598, legendY=LEG_Y,
                          symbolFillColor="#8a8a8a", symbolOpacity=0.85, **common_leg)


def key_only(lx, **kw):
    return alt.Legend(orient="none", legendX=lx, legendY=LEG_Y, title=None, labelExpr="''",
                      labelOffset=0, labelFontSize=1, symbolSize=784, direction="horizontal", **kw)


color_enc = alt.Color("BMI:N", scale=alt.Scale(domain=BMI_LEVELS, range=LINE_COLORS), legend=color_legend)

pts = alt.Chart(points).mark_point(filled=True, size=160, strokeWidth=0).encode(
    x=alt.X("day:Q", scale=x_scale, axis=x_axis),
    y=alt.Y("igg:Q", scale=y_scale, axis=y_axis),
    color=color_enc,
    shape=alt.Shape("N:N", scale=alt.Scale(domain=N_LEVELS, range=[CIRCLE, TRIANGLE]), legend=shape_legend),
    opacity=alt.Opacity("N:N", scale=alt.Scale(range=[0.36, 0.36]),
                        legend=key_only(DASH_X[0], symbolType="square", symbolFillColor="#C2C2C2",
                                        symbolStrokeColor="transparent", columnPadding=DASH_X[1] - DASH_X[0] - 28)),
)

band_layers = []
for g, col, lx in zip(BMI_LEVELS, BAND_COLORS, TILE_X):
    band_layers.append(
        alt.Chart(fits[fits["BMI"] == g]).mark_area(opacity=0.13, interpolate="monotone").encode(
            x=alt.X("day:Q", scale=x_scale, axis=x_axis),
            y=alt.Y("lo:Q", scale=y_scale, axis=y_axis),
            y2="hi:Q",
            fill=alt.Fill("BMI:N", scale=alt.Scale(domain=[g], range=[col]),
                          legend=key_only(lx, symbolType="square", symbolOpacity=0.14,
                                          symbolStrokeColor="transparent")),
            detail="curve:N",
        )
    )

line_layers = []
for nv, dash, lx in zip(N_LEVELS, DASHES, DASH_X):
    line_layers.append(
        alt.Chart(fits[fits["N"] == nv]).mark_line(strokeWidth=2, interpolate="monotone").encode(
            x=alt.X("day:Q", scale=x_scale, axis=x_axis),
            y=alt.Y("igg:Q", scale=y_scale, axis=y_axis),
            color=color_enc,
            strokeDash=alt.StrokeDash("N:N", scale=alt.Scale(domain=[nv], range=[dash]),
                                      legend=key_only(lx, symbolType="stroke", symbolStrokeWidth=2.2,
                                                      symbolStrokeColor="#000000", symbolOpacity=1)),
            detail="curve:N",
        )
    )

rule = alt.Chart(thr_df).mark_rule(color="#444444", strokeDash=[1.5, 4.5], strokeWidth=1.4).encode(
    y=alt.Y("igg:Q", scale=y_scale, axis=y_axis)
)

chart = alt.layer(pts, *band_layers, *line_layers, rule).resolve_scale(
    fill="independent", strokeDash="independent"
).properties(
    width=1160, height=857, padding={"left": 4, "top": 0, "right": 0, "bottom": 0}
).configure_view(stroke=None).configure_axis(
    domainColor="#000000", domainWidth=1.3, tickColor="#333333", tickSize=4,
    labelFont=FONT, titleFont=FONT, labelFontSize=13, labelColor="#333333",
    titleFontSize=17, titleFontWeight="bold", titleColor="#000000",
    gridColor="#EBEBEB", gridWidth=1.2, labelPadding=5,
).configure_axisX(titlePadding=10).configure_axisY(titlePadding=14)

chart.save("out.html", embed_options={"renderer": "svg", "actions": False})
